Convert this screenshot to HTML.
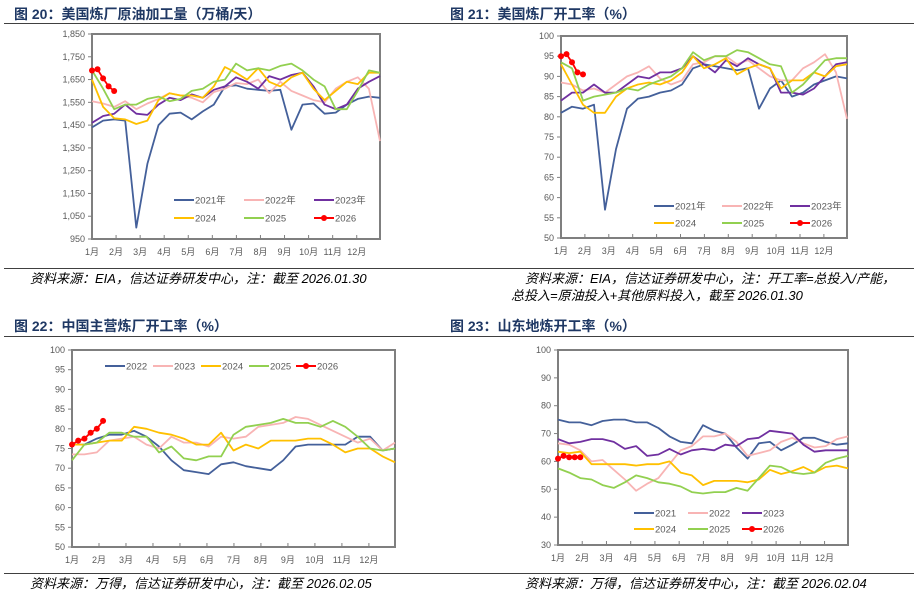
<!DOCTYPE html>
<html><head><meta charset="utf-8">
<style>
html,body{margin:0;padding:0;background:#fff;}
svg{display:block;font-family:"Liberation Sans","Noto Sans CJK SC",sans-serif;}
.ttl{font-size:14px;font-weight:bold;fill:#1f3864;}
.src{font-size:13px;font-style:italic;fill:#000;}
.tk{font-size:9px;fill:#595959;}
.lg{font-size:9.5px;fill:#595959;}
</style></head>
<body>
<svg id="root" width="918" height="593" viewBox="0 0 918 593" xmlns="http://www.w3.org/2000/svg">
<text class="ttl" x="14" y="19">图 20：美国炼厂原油加工量（万桶/天）</text>
<text class="ttl" x="450" y="19">图 21：美国炼厂开工率（%）</text>
<text class="ttl" x="14" y="331">图 22：中国主营炼厂开工率（%）</text>
<text class="ttl" x="450" y="331">图 23：山东地炼开工率（%）</text>
<line x1="4" y1="23.5" x2="914" y2="23.5" stroke="#404040" stroke-width="1"/>
<line x1="4" y1="268.5" x2="914" y2="268.5" stroke="#404040" stroke-width="1"/>
<line x1="4" y1="336.5" x2="914" y2="336.5" stroke="#404040" stroke-width="1"/>
<line x1="4" y1="573.5" x2="914" y2="573.5" stroke="#404040" stroke-width="1"/>
<text class="src" x="30" y="283">资料来源：EIA，信达证券研发中心，注：截至 2026.01.30</text>
<text class="src" x="525" y="283">资料来源：EIA，信达证券研发中心，注：开工率=总投入/产能，</text>
<text class="src" x="511" y="300">总投入=原油投入+其他原料投入，截至 2026.01.30</text>
<text class="src" x="30" y="588">资料来源：万得，信达证券研发中心，注：截至 2026.02.05</text>
<text class="src" x="525" y="588">资料来源：万得，信达证券研发中心，注：截至 2026.02.04</text>
</svg>
<script>
// shared
const months = ["1月","2月","3月","4月","5月","6月","7月","8月","9月","10月","11月","12月"];
// Figure 20 (values at week 0,2,...,52)
const f20Ticks = [950,1050,1150,1250,1350,1450,1550,1650,1750,1850];
const f20TickLabels = ["950","1,050","1,150","1,250","1,350","1,450","1,550","1,650","1,750","1,850"];
const f20_2021 = [1440,1470,1475,1470,1000,1280,1450,1500,1505,1475,1510,1540,1620,1625,1610,1605,1600,1605,1430,1540,1545,1500,1505,1540,1565,1575,1570];
const f20_2022 = [1555,1545,1530,1555,1520,1545,1565,1590,1580,1570,1550,1595,1610,1635,1630,1650,1590,1640,1600,1580,1560,1550,1610,1640,1660,1610,1380];
const f20_2023 = [1460,1490,1500,1540,1500,1495,1540,1570,1560,1585,1570,1605,1620,1660,1640,1610,1665,1650,1670,1680,1620,1540,1520,1540,1610,1640,1665];
const f20_2024 = [1650,1530,1480,1475,1455,1470,1560,1590,1580,1580,1570,1620,1705,1680,1650,1700,1640,1620,1660,1680,1610,1560,1600,1640,1630,1680,1680];
const f20_2025 = [1690,1610,1520,1540,1540,1565,1575,1555,1565,1600,1610,1640,1650,1720,1690,1700,1690,1710,1720,1690,1650,1620,1520,1520,1600,1690,1680];
const f20_2026 = [1690,1695,1655,1620,1600];
// Figure 21
const f21Ticks = [50,55,60,65,70,75,80,85,90,95,100];
const f21_2021 = [81,82.5,82,83,57,72,82,84.5,85,86,86.5,88,92,93,92.5,92,91.5,92,82,87,89,85,86,88,89,90,89.5];
const f21_2022 = [88.5,88,86.5,87,86,88,90,91,92.5,89.5,88,89,93,93.5,95,95,93,94,92,90,89,89,92,93.5,95.5,91,79.5];
const f21_2023 = [84,86,86,88,86,86,88,90,89.5,91,91,92,95,93,91,94,92.5,94.5,93,92,86,86,85.5,87,90,93,93.5];
const f21_2024 = [93,88,83,81,81,85,87,88,88.5,88,89,91,95,92,93,94.5,90.5,92,93,92,87,89,89,91,90,92.5,93];
const f21_2025 = [93.5,92,84,85,85.5,86,87,86.5,88,89,90,92,96,94,95,95,96.5,96,94.5,93,92.5,86,88,91,94,94.5,94.5];
const f21_2026 = [95,95.5,93.5,91,90.5];
// Figure 22
const f22Ticks = [50,55,60,65,70,75,80,85,90,95,100];
const f22_2022 = [76,76,77.5,78.5,78.5,79.5,78,75.5,72,69.5,69,68.5,71,71.5,70.5,70,69.5,72,75.5,76,76,76,76,78,78,74.5,75];
const f22_2023 = [73.5,73.5,74,77,77.5,78,76,75,78,76.5,76.5,75.5,78,77.5,78,80.5,81,81.5,83,82.5,81,79.5,78,76.5,77.5,74.5,76.5];
const f22_2024 = [76,76,76.5,77,77,80.5,80,79,78.5,77.5,76,76,79,74.5,76,75,77,77,77,77.5,77.5,76,74,75,75,73,71.5];
const f22_2025 = [72,76,76.5,79,79,78,78,74,75.5,72.5,72,73,73,78.5,80.5,81,81.5,82.5,81.5,81.5,80.5,82,80.5,78,75,74.5,75];
const f22_2026 = [76,77,77.5,79,80,82];
// Figure 23
const f23Ticks = [30,40,50,60,70,80,90,100];
const f23_2021 = [75,74,74,73,74.5,75,75,74,74,72,69,67,66.5,73,71,70,65,61,66.5,67,64,66,68.5,68.5,67,66,66.5];
const f23_2022 = [66.5,66,64,60,60.5,57,53.5,49.5,52,54,59,64,65.5,69,69,70,67,62,63,64,67,68.5,66.5,65,65.5,68,69];
const f23_2023 = [68,66.5,67,68,68,67,64.5,65.5,62,62.5,64.5,62.5,64,64.5,64,66,65.5,68,68.5,71,70.5,70,66,63.5,64,64,64];
const f23_2024 = [63.5,63,63.5,59,59,59,59,58.5,59,59,60,56,55,51.5,53,53,53,52.5,53.5,57,55.5,56.5,58,56,58,58.5,57.5];
const f23_2025 = [57.5,56,54,53.5,51.5,50.5,52.5,55,54,52.5,52,51,49,48.5,49,49,50.5,49.5,54,58.5,58,56,55.5,56,59.5,61,62];
const f23_2026 = [61,62,61.5,61.5,61.5];

const NS = "http://www.w3.org/2000/svg";
const root = document.getElementById('root');
const COL = {navy:"#44609a", pink:"#f8b4b4", purple:"#7030a0", yellow:"#ffc000", green:"#92d050", red:"#ff0000"};

function mk(tag, attrs, parent){
  const e = document.createElementNS(NS, tag);
  for (const k in attrs) e.setAttribute(k, attrs[k]);
  (parent||root).appendChild(e);
  return e;
}

function chart(cfg){
  const g = mk('g', {});
  
  
  const {x0,x1,y0,y1,min,max} = cfg;
  const sx = w => x0 + (x1-x0)*w/52;
  const sy = v => y1 - (y1-y0)*(v-min)/(max-min);
  const box = mk('rect', {x:x0, y:y0, width:x1-x0, height:y1-y0, fill:"#fff", stroke:"#7f7f7f", "stroke-width":2}, g);
  
  
  cfg.ticks.forEach((t,i)=>{
    const y = sy(t);
    mk('line', {x1:x0-4, y1:y, x2:x0, y2:y, stroke:"#7f7f7f", "stroke-width":1}, g);
    const tx = mk('text', {x:x0-7, y:y+3, "text-anchor":"end", class:"tk"}, g);
    tx.textContent = cfg.tickLabels ? cfg.tickLabels[i] : String(t);
    
    
  });
  months.forEach((m,i)=>{
    const x = x0 + (x1-x0)*(i*365/12/7)/52;
    mk('line', {x1:x, y1:y1, x2:x, y2:y1-4, stroke:"#7f7f7f", "stroke-width":1}, g);
    const tx = mk('text', {x:x, y:y1+16, "text-anchor":"middle", class:"tk", "font-size":"10"}, g);
    tx.textContent = m;
    
    
  });
  cfg.series.forEach(s=>{
    const step = s.step || 2;
    const pts = s.data.map((v,i)=>sx(i*step).toFixed(1)+","+sy(v).toFixed(1)).join(" ");
    const pl = mk('polyline', {points:pts, fill:"none", stroke:s.color, "stroke-width":1.8, "stroke-linejoin":"round"}, g);
    
    
    if (s.dots){
      s.data.forEach((v,i)=>{
        const c = mk('circle', {cx:sx(i*step), cy:sy(v), r:3, fill:s.color}, g);
        
        
      });
    }
  });
  cfg.series.forEach((s,i)=>{
    const p = cfg.legendPos[i];
    const lg = mk('g', {}, g);
    
    
    mk('line', {x1:p[0], y1:p[1], x2:p[0]+20, y2:p[1], stroke:s.color, "stroke-width":2}, lg);
    if (s.dots) mk('circle', {cx:p[0]+10, cy:p[1], r:3, fill:s.color}, lg);
    const tx = mk('text', {x:p[0]+21, y:p[1]+3.5, class:"lg"}, lg);
    tx.textContent = s.legend;
  });
}

function ser(arrs, labels, legends){
  const cols = [COL.navy, COL.pink, COL.purple, COL.yellow, COL.green, COL.red];
  return arrs.map((a,i)=>({data:a, color:cols[i], label:labels[i], legend:legends[i], step: i===5?1:2, dots: i===5}));
}

chart({name:"chart-us-refinery-throughput", x0:92, x1:380, y0:34, y1:239, min:950, max:1850,
  ticks:f20Ticks, tickLabels:f20TickLabels,
  series: ser([f20_2021,f20_2022,f20_2023,f20_2024,f20_2025,f20_2026],["2021","2022","2023","2024","2025","2026"],["2021年","2022年","2023年","2024","2025","2026"]),
  legendPos:[[174,200],[244,200],[314,200],[174,218],[244,218],[314,218]]});

chart({name:"chart-us-refinery-utilization", x0:561, x1:847, y0:36, y1:238, min:50, max:100,
  ticks:f21Ticks,
  series: ser([f21_2021,f21_2022,f21_2023,f21_2024,f21_2025,f21_2026],["2021","2022","2023","2024","2025","2026"],["2021年","2022年","2023年","2024","2025","2026"]),
  legendPos:[[654,206],[722,206],[790,206],[654,223],[722,223],[790,223]]});

chart({name:"chart-china-major-refinery-utilization", x0:72, x1:395, y0:350, y1:547, min:50, max:100,
  ticks:f22Ticks,
  series: (()=>{const cols=[COL.navy,COL.pink,COL.yellow,COL.green,COL.red];const L=["2022","2023","2024","2025","2026"];
    return [f22_2022,f22_2023,f22_2024,f22_2025,f22_2026].map((a,i)=>({data:a,color:cols[i],label:L[i],legend:L[i],step:i===4?1:2,dots:i===4}));})(),
  legendPos:[[105,366],[153,366],[201,366],[249,366],[296,366]]});

chart({name:"chart-shandong-teapot-utilization", x0:558, x1:848, y0:350, y1:545, min:30, max:100,
  ticks:f23Ticks,
  series: ser([f23_2021,f23_2022,f23_2023,f23_2024,f23_2025,f23_2026],["2021","2022","2023","2024","2025","2026"],["2021","2022","2023","2024","2025","2026"]),
  legendPos:[[634,513],[688,513],[742,513],[634,529],[688,529],[742,529]]});
</script>
</body></html>
